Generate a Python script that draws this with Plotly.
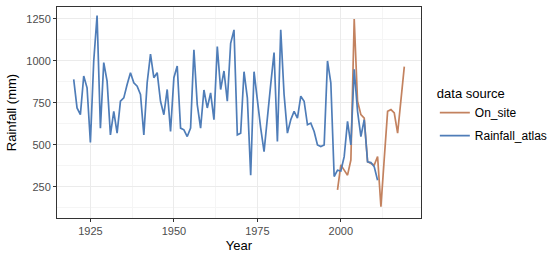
import plotly.graph_objects as go

# Rainfall_atlas series (annual)
atlas_years = list(range(1920, 2012))
atlas_rain = [
    890, 720, 680, 910, 840, 515, 1000, 1270, 600, 990,
    880, 560, 700, 570, 760, 780, 860, 930, 870, 850,
    800, 560, 870, 1040, 900, 930, 760, 680, 830, 580,
    900, 970, 600, 590, 550, 600, 1066, 740, 600, 827,
    720, 810, 650, 1085, 830, 940, 760, 1105, 1185, 560,
    570, 936, 780, 320, 936, 760, 600, 460, 680, 860,
    1050, 520, 1185, 800, 570, 650, 700, 660, 790, 760,
    620, 630, 580, 500, 490, 500, 1000, 870, 312, 350,
    345, 430, 640, 500, 950, 700, 550, 650, 400, 395,
    370, 290,
]

# On_site series (annual)
site_years = list(range(1999, 2020))
site_rain = [
    232, 381, 350, 320, 410, 1250, 760, 680, 660, 400,
    390, 380, 431, 133, 420, 700, 710, 690, 570, 770,
    966,
]

x_ticks = [1925, 1950, 1975, 2000]
y_ticks = [250, 500, 750, 1000, 1250]

col_site = "#C3825F"
col_atlas = "#4F7DB8"

fig = go.Figure()
fig.add_trace(go.Scatter(
    x=site_years, y=site_rain, mode="lines", name="On_site",
    line=dict(color=col_site, width=1.7), legendrank=1, legendgroup="a"
))
fig.add_trace(go.Scatter(
    x=atlas_years, y=atlas_rain, mode="lines", name="Rainfall_atlas",
    line=dict(color=col_atlas, width=1.7), legendrank=2, legendgroup="b"
))

axis_common = dict(
    showgrid=True, gridcolor="#EBEBEB", gridwidth=1,
    zeroline=False, showline=True, linecolor="#333333", linewidth=1, mirror=True,
    ticks="outside", ticklen=3, tickcolor="#333333",
    tickfont=dict(family="Liberation Sans, Arial", size=11, color="#4D4D4D"),
)

fig.update_layout(
    width=550, height=257,
    margin=dict(l=57, r=129, t=7, b=39, autoexpand=False),
    paper_bgcolor="white", plot_bgcolor="white",
    font=dict(family="Liberation Sans, Arial", color="black"),
    xaxis=dict(
        axis_common, range=[1915, 2024], tickvals=x_ticks,
        minor=dict(showgrid=True, gridcolor="#F5F5F5", tickvals=[1937.5, 1962.5, 1987.5, 2012.5]),
        title=dict(text="Year", font=dict(size=13), standoff=4),
    ),
    yaxis=dict(
        axis_common, range=[65, 1321], tickvals=y_ticks,
        minor=dict(showgrid=True, gridcolor="#F5F5F5", tickvals=[125, 375, 625, 875, 1125]),
        title=dict(text="Rainfall (mm)", font=dict(size=13), standoff=6),
    ),
    legend=dict(
        title=dict(text="data source", font=dict(size=13)),
        font=dict(size=12, color="black"),
        x=1.038, y=0.485, xanchor="left", yanchor="middle",
        tracegroupgap=4, bgcolor="rgba(0,0,0,0)",
    ),
    showlegend=True,
)

fig.write_html("out.html", config={"displayModeBar": False},
               post_script="document.body.style.margin='0';")
